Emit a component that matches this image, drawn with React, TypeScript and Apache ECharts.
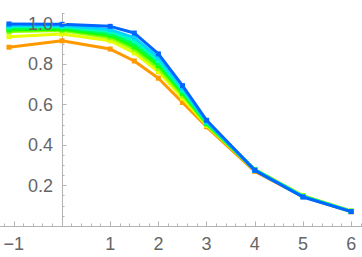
import React, { useEffect, useRef } from "react";
import * as echarts from "echarts";

const xValues = [-1.1, 0, 1, 1.5, 2, 2.5, 3, 4, 5, 6];
const orangeValues = [0.883, 0.915, 0.874, 0.815, 0.73, 0.61, 0.49, 0.27, 0.145, 0.07];
const yellowValues = [0.935, 0.948, 0.915, 0.855, 0.762, 0.632, 0.497, 0.28, 0.15, 0.074];
const limeValues = [0.96, 0.965, 0.93, 0.872, 0.778, 0.645, 0.502, 0.278, 0.148, 0.073];
const greenValues = [0.968, 0.972, 0.94, 0.885, 0.792, 0.655, 0.506, 0.277, 0.147, 0.072];
const springValues = [0.977, 0.98, 0.95, 0.9, 0.806, 0.665, 0.51, 0.277, 0.146, 0.072];
const aquaValues = [0.985, 0.985, 0.96, 0.915, 0.818, 0.673, 0.514, 0.276, 0.146, 0.072];
const cyanValues = [0.99, 0.99, 0.97, 0.93, 0.832, 0.682, 0.517, 0.276, 0.145, 0.072];
const blueValues = [0.998, 0.996, 0.986, 0.953, 0.85, 0.693, 0.522, 0.275, 0.143, 0.071];

const seriesList = [
  orangeValues,
  yellowValues,
  limeValues,
  greenValues,
  springValues,
  aquaValues,
  cyanValues,
  blueValues,
];
const seriesColors = [
  "#FF9900",
  "#E6FF00",
  "#8CFF00",
  "#1FFF00",
  "#00FF55",
  "#00FFBB",
  "#00D4FF",
  "#0066FF",
];

const xTickLabels = ["−1", "1", "2", "3", "4", "5", "6"];
const yTickLabels = ["0.2", "0.4", "0.6", "0.8", "1.0"];

const axisGray = "#b3b3b3";
const labelGray = "#666666";
const font = "'Liberation Sans', Arial, sans-serif";

export default function App() {
  const ref = useRef<HTMLDivElement>(null);
  useEffect(() => {
    if (!ref.current) return;
    const chart = echarts.init(ref.current, undefined, { renderer: "svg" });
    const unit = 48.2;
    const x0 = 62;
    const xMin = -2;
    const xMax = 7;
    const gridLeft = x0 + xMin * unit;
    const gridRight = 362 - (x0 + xMax * unit);
    const yOffset = -(x0 - gridLeft);
    const fmtX = (v: number) => {
      const lbl = v < 0 ? "−" + Math.abs(v) : String(v);
      return xTickLabels.includes(lbl) ? lbl : "";
    };
    const fmtY = (v: number) => {
      const lbl = v.toFixed(1);
      return yTickLabels.includes(lbl) && Math.abs(v - parseFloat(lbl)) < 1e-6 ? lbl : "";
    };
    chart.setOption({
      animation: false,
      grid: {
        left: gridLeft,
        right: gridRight,
        top: 13.4,
        bottom: 31,
        containLabel: false,
        outerBoundsMode: "none",
      },
      xAxis: {
        type: "value",
        min: xMin,
        max: xMax,
        interval: 1,
        axisLine: { show: true, onZero: true, lineStyle: { color: axisGray, width: 1 } },
        axisTick: { show: true, inside: true, length: 4.5, lineStyle: { color: axisGray } },
        minorTick: { show: true, splitNumber: 5, length: 2.5, lineStyle: { color: axisGray } },
        splitLine: { show: false },
        axisLabel: {
          show: true,
          margin: 9,
          color: labelGray,
          fontSize: 18,
          fontFamily: font,
          formatter: fmtX,
        },
      },
      yAxis: [
        {
          type: "value",
          position: "left",
          offset: yOffset,
          min: 0,
          max: 1.05,
          interval: 0.05,
          axisLine: { show: true, onZero: false, lineStyle: { color: axisGray, width: 1 } },
          axisTick: { show: true, inside: true, length: 2.5, lineStyle: { color: axisGray } },
          splitLine: { show: false },
          axisLabel: { show: false },
        },
        {
          type: "value",
          position: "left",
          offset: yOffset,
          z: 20,
          min: 0,
          max: 1.05,
          interval: 0.2,
          axisLine: { show: false, onZero: false },
          axisTick: {
            show: true,
            inside: true,
            length: 4.5,
            lineStyle: { color: axisGray },
            customValues: [0.2, 0.4, 0.6, 0.8, 1.0],
          },
          splitLine: { show: false },
          axisLabel: {
            show: true,
            margin: 9,
            color: labelGray,
            fontSize: 18,
            fontFamily: font,
            formatter: fmtY,
          },
        },
      ],
      series: seriesList.map((vals, i) => ({
        type: "line",
        xAxisIndex: 0,
        yAxisIndex: 0,
        data: xValues.map((x, j) => [x, vals[j]]),
        symbol: "rect",
        symbolSize: 5,
        showSymbol: true,
        lineStyle: { color: seriesColors[i], width: 3 },
        itemStyle: { color: seriesColors[i] },
        z: 2 + i,
      })),
    });
    return () => chart.dispose();
  }, []);
  return <div ref={ref} style={{ width: 362, height: 257, position: "absolute", left: 0, top: 0 }} />;
}
